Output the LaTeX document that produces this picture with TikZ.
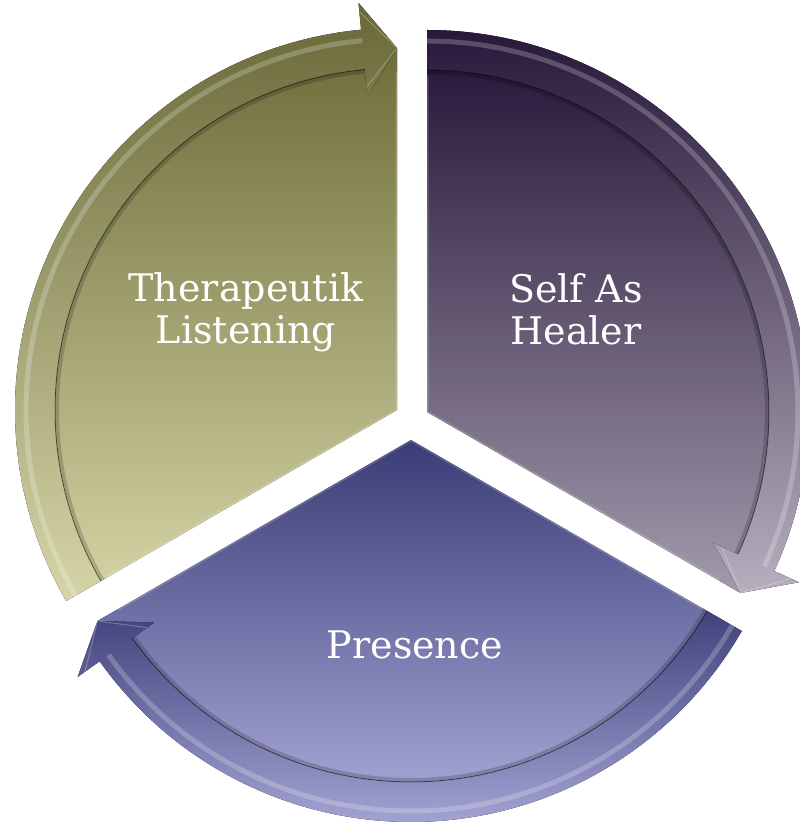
\documentclass[tikz,border=0pt]{standalone}
\usepackage{fontspec}
\setmainfont{DejaVu Serif}
\usetikzlibrary{calc}
\definecolor{lpT}{HTML}{6E6D3B}
\definecolor{lpB}{HTML}{D2D1A2}
\definecolor{lrT}{HTML}{686838}
\definecolor{lrB}{HTML}{D6D5A8}
\definecolor{rpT}{HTML}{2A1A3C}
\definecolor{rpB}{HTML}{A29AAC}
\definecolor{rrT}{HTML}{28183A}
\definecolor{rrB}{HTML}{B6AFBE}
\definecolor{bpT}{HTML}{3A3C76}
\definecolor{bpB}{HTML}{A4A4D4}
\definecolor{brT}{HTML}{40427C}
\definecolor{brB}{HTML}{A2A2D2}
\newcommand{\mysector}[7]{%
  \pgfmathsetmacro{\ha}{#3+5.4}%
  % inner pie
  \fill[top color=#4,bottom color=#5]
    (#1) -- ($(#1)+(#3:362)$) -- ($(#1)+(\ha:342)$)
    arc[start angle=\ha,end angle=#2,radius=342] -- cycle;
  \draw[white,opacity=.18,line width=3pt]
    ($(#1)+(#2:336)$) -- (#1) -- ($(#1)+(#3:338)$);
  % arrow rim
  \fill[top color=#6,bottom color=#7]
    ($(#1)+(#2:342)$) -- ($(#1)+(#2:382)$)
    arc[start angle=#2,end angle=\ha,radius=382]
    -- ($(#1)+(\ha:409)$) -- ($(#1)+(#3:362)$) -- ($(#1)+(\ha:315)$)
    -- ($(#1)+(\ha:342)$)
    arc[start angle=\ha,end angle=#2,radius=342] -- cycle;
  \draw[white,opacity=.22,line width=5pt]
    ($(#1)+(#2:371)$) arc[start angle=#2,end angle=\ha,radius=371];
  \draw[black,opacity=.18,line width=4pt]
    ($(#1)+(\ha:340)$) arc[start angle=\ha,end angle=#2,radius=340];
  \draw[black,opacity=.35,line width=1pt]
    ($(#1)+(\ha:342)$) arc[start angle=\ha,end angle=#2,radius=342];
  \draw[white,opacity=.25,line width=1pt]
    ($(#1)+(\ha:400)$) -- ($(#1)+(#3:362)$) -- ($(#1)+(\ha:324)$);
}
\tikzset{
  label/.style={text=white,font=\fontsize{38}{42}\selectfont,align=center,inner sep=0pt}
}
\begin{document}
\begin{tikzpicture}[x=1pt,y=1pt]
  \useasboundingbox (0,0) rectangle (800,823);
  \clip (0,0) rectangle (800,823);
  \coordinate (L) at (397,413);
  \coordinate (R) at (427,411);
  \coordinate (B) at (411,383);
  \mysector{L}{210}{90}{lpT}{lpB}{lrT}{lrB}
  \mysector{R}{90}{-30}{rpT}{rpB}{rrT}{rrB}
  \mysector{B}{-30}{-150}{bpT}{bpB}{brT}{brB}
  \node[label] (tl) at (246,511) {Therapeutik\\Listening};
  \node[label] (sh) at (576,514) {Self As\\Healer};
  \node[label,anchor=base] (pr) at (415,164) {Presence};
\end{tikzpicture}
\end{document}
